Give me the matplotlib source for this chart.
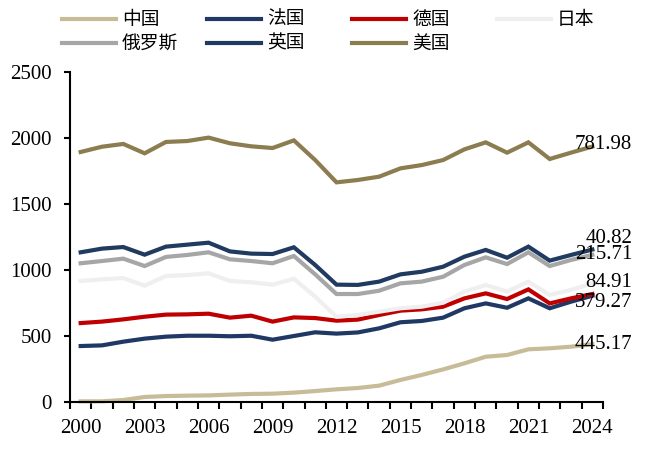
import matplotlib
matplotlib.use("Agg")
import matplotlib.pyplot as plt
from matplotlib.lines import Line2D

years = list(range(2000, 2025))
china = [5, 5, 15, 38, 45, 48, 50, 56, 61, 63, 71, 83, 96, 106, 124, 167, 205, 247, 293, 343, 356, 399, 407, 419, 438]
france = [424, 429, 457, 480, 495, 502, 502, 498, 502, 472, 500, 528, 518, 527, 558, 604, 614, 639, 710, 747, 714, 785, 710, 760, 805]
germany = [598, 609, 626, 646, 662, 664, 669, 639, 654, 609, 641, 636, 616, 624, 659, 692, 702, 722, 785, 823, 780, 853, 747, 785, 818]
japan = [917, 929, 939, 881, 955, 962, 975, 917, 907, 889, 934, 798, 646, 659, 684, 710, 722, 752, 836, 886, 836, 912, 811, 849, 899]
russia = [1051, 1068, 1086, 1030, 1099, 1114, 1134, 1081, 1068, 1051, 1106, 967, 818, 818, 843, 899, 912, 949, 1038, 1096, 1045, 1134, 1030, 1076, 1115]
uk = [1134, 1162, 1174, 1116, 1177, 1192, 1207, 1141, 1124, 1121, 1172, 1038, 889, 887, 912, 967, 987, 1025, 1101, 1152, 1093, 1177, 1071, 1114, 1155]
us = [1894, 1934, 1955, 1884, 1970, 1977, 2003, 1960, 1937, 1924, 1982, 1833, 1664, 1682, 1707, 1770, 1795, 1833, 1914, 1967, 1889, 1967, 1841, 1889, 1935]

names = ["中国", "法国", "德国", "日本", "俄罗斯", "英国", "美国"]
series = [china, france, germany, japan, russia, uk, us]
colors = ["#C8BC98", "#1F3864", "#C00000", "#EFEFEF", "#A6A6A6", "#203A60", "#8B7D50"]

end_labels = ["781.98", "40.82", "215.71", "84.91", "379.27", "445.17"]
end_label_y = [1947, 1242, 1121, 909, 757, 432]

yticks = [0, 500, 1000, 1500, 2000, 2500]
xtick_years = [2000, 2003, 2006, 2009, 2012, 2015, 2018, 2021, 2024]

serif = "Liberation Serif"
cjk = ["Noto Sans CJK SC", "DejaVu Sans"]

W, H = 651, 462
fig = plt.figure(figsize=(W / 100, H / 100), dpi=100)
ax = fig.add_axes([70 / W, (H - 402) / H, (603 - 70) / W, (402 - 72) / H])

xs = list(range(len(years)))
for s, c in zip(series, colors):
    ax.plot(xs, s, color=c, lw=3.0, solid_joinstyle="miter", clip_on=False)

ax.set_xlim(-0.5, len(years) - 0.5)
ax.set_ylim(0, 2500)

for sp in ["top", "right"]:
    ax.spines[sp].set_visible(False)
for sp in ["left", "bottom"]:
    ax.spines[sp].set_linewidth(1.5)
    ax.spines[sp].set_color("black")

ax.set_yticks(yticks)
ax.set_yticklabels([str(v) for v in yticks], fontfamily=serif, fontsize=15)
ax.tick_params(axis="y", direction="out", length=4, width=1.5, pad=9)

ax.set_xticks([years.index(y) for y in xtick_years])
ax.set_xticklabels([str(y) for y in xtick_years], fontfamily=serif, fontsize=15)
ax.set_xticks([i - 0.5 for i in range(len(years) + 1)], minor=True)
ax.tick_params(axis="x", which="major", length=0, pad=12)
ax.tick_params(axis="x", which="minor", direction="out", length=5, width=1.5)

x_lab = (632 - 70) / ((603 - 70) / len(years)) - 0.5
for t, yv in zip(end_labels, end_label_y):
    ax.text(x_lab, yv, t, ha="right", va="center", fontfamily=serif, fontsize=15,
            color="black", clip_on=False)

# legend (manual, evenly spaced columns)
col_x = [62, 207, 352, 497]
row_y = [19, 43]
order = [(0, 0), (1, 0), (2, 0), (3, 0), (0, 1), (1, 1), (2, 1)]
for (ci, ri), name, c in zip(order, names, colors):
    x0 = col_x[ci]
    y0 = row_y[ri]
    fig.add_artist(Line2D([x0 / W, (x0 + 54) / W], [1 - y0 / H, 1 - y0 / H],
                          color=c, lw=3.0, transform=fig.transFigure))
    fig.text((x0 + 60) / W, 1 - y0 / H, name, ha="left", va="center",
             fontfamily=cjk, fontsize=13.5)

fig.savefig("out.png", dpi=100)
